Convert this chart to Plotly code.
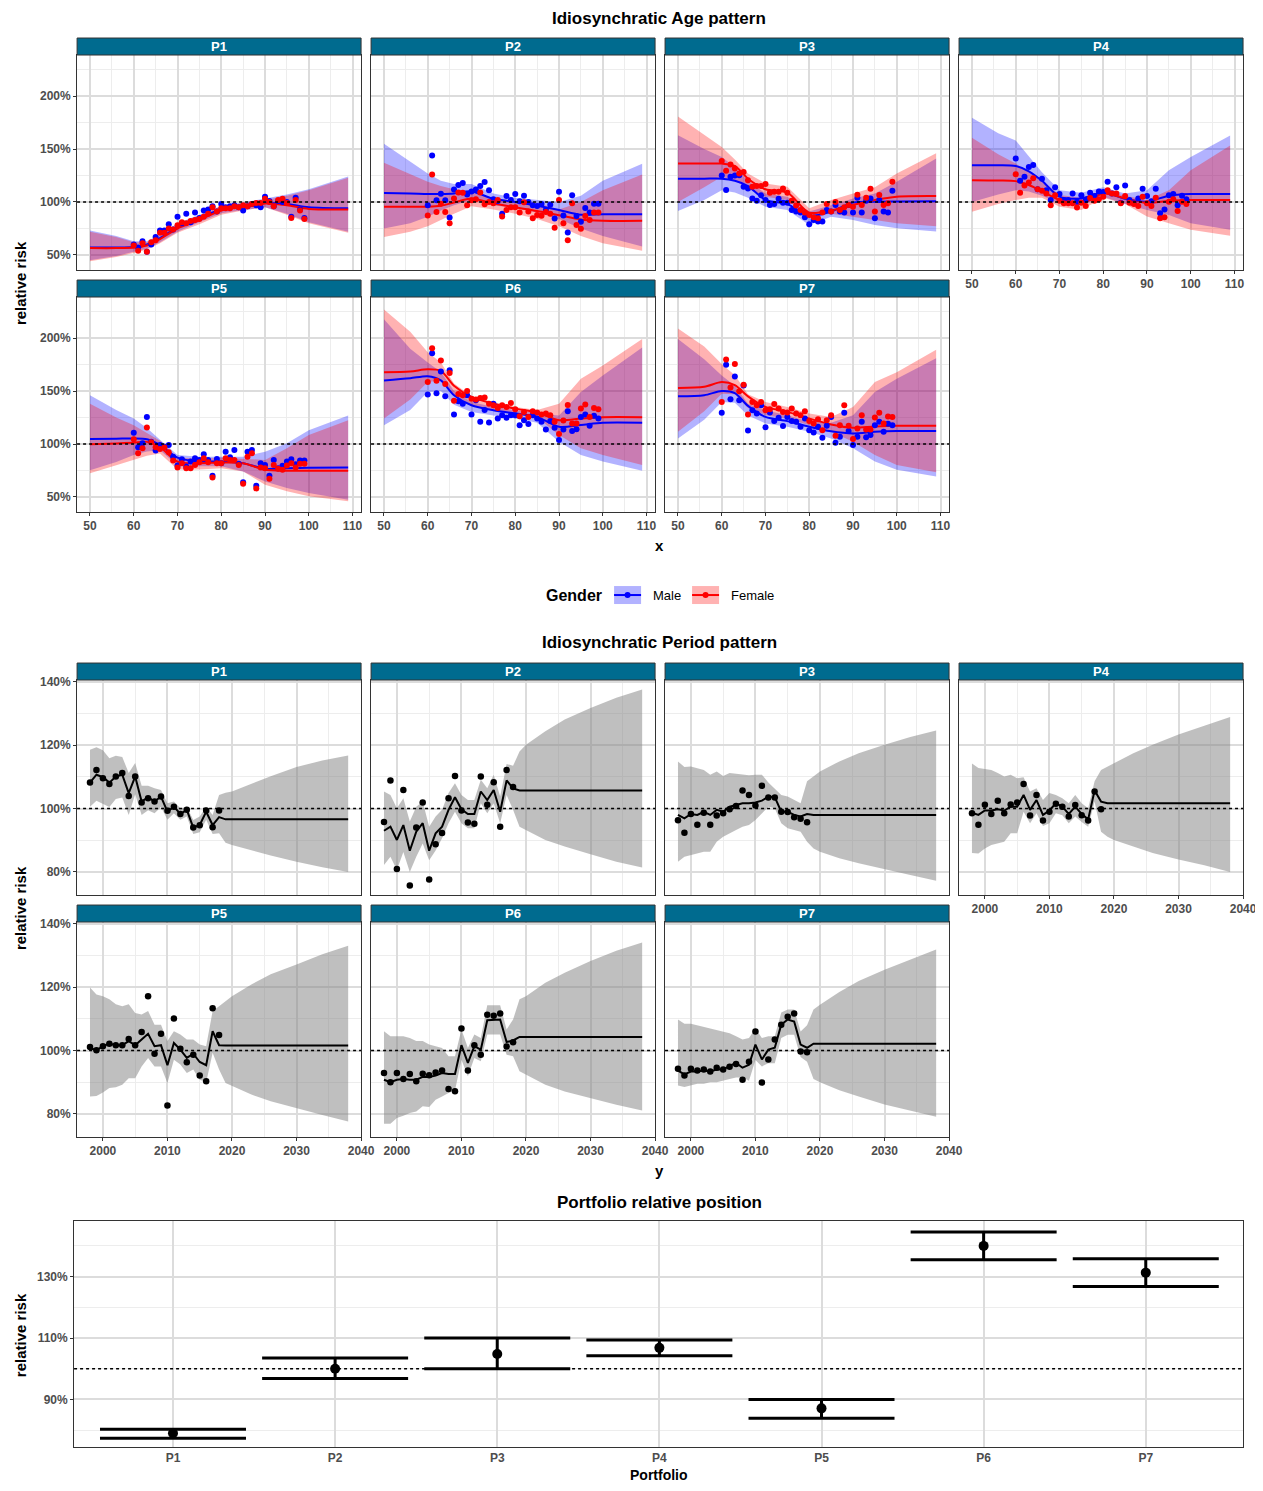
import plotly.graph_objects as go

# page placement: html body keeps its default 8px margin; the photographed page
# comes out slightly compressed horizontally, so positions are corrected for that
OFF = 8
SX = 0.989
W, H = 1269, 1475

# ---------------- data ----------------
ports = ["P1", "P2", "P3", "P4", "P5", "P6", "P7"]
ages = list(range(60, 100))
age_knots = [50, 56, 60, 63, 66, 70, 75, 80, 85, 90, 95, 100, 109]
years = list(range(1998, 2019))
line_years = list(range(1998, 2020)) + [2038]
band_years = list(range(1998, 2021)) + [2023, 2026, 2030, 2034, 2038]

# observed relative risk by age (%), ages 60..99
male_points = {
    "P1": [60, 57, 63, 53, 60, 67, 73, 73, 79, 74, 86, 80, 89, 81, 90, 85, 92, 93, 96, 91,
           98, 95, 96, 97, 95, 92, 96, 98, 97, 95, 105, 101, 96, 101, 100, 100, 86, 104, 93, 85],
    "P2": [97, 144, 101.6, 107.8, 101.6, 85.3, 111.9, 116, 118, 107, 110, 111.9, 115, 118.8, 111, 102.5, 101, 89, 105.6, 101.9,
           107.5, 100.6, 106, 100, 96.9, 96.3, 98, 92.5, 97.5, 84.4, 109.7, 87.2, 71.3, 106.3, 86.9, 81.3, 94.4, 90, 98.4, 98.4],
    "P3": [125, 111.3, 123.8, 125, 125.3, 114.4, 112.8, 103.4, 101.3, 106.3, 101.9, 97.2, 98, 103.1, 99.4, 99.4, 92.5, 91, 90, 85.6,
           79, 83, 81.6, 81.6, 92.5, 91, 97.2, 91, 90, 97.2, 90, 104, 90, 101.3, 103.4, 84.7, 101.9, 91, 90, 110.6],
    "P4": [141, 120, 123.8, 133, 135, 112, 122, 111, 102, 114, 107.5, 102, 102, 108, 100.3, 106.3, 102, 108.8, 105.6, 110,
           109.4, 119, 108, 114, 99.4, 115.6, 102, 98.8, 103.4, 112.5, 105.6, 100.6, 112.5, 89.4, 93, 106.3, 107.5, 96.9, 106, 102.5],
    "P5": [110.6, 96.9, 100.6, 125.6, 102.2, 93.8, 99, 97.5, 99, 88, 79.7, 85.6, 78.8, 83.4, 86.6, 85, 90.3, 85, 70, 85.9,
           81.9, 92.8, 87.5, 94.4, 81.3, 64, 92.8, 94.4, 60.6, 81.9, 80.3, 70, 85, 77.2, 79.4, 83.4, 85.6, 81, 84.4, 84.4],
    "P6": [146.6, 185.6, 147.8, 168.4, 145, 169.7, 127.8, 140.3, 138, 145.9, 127.8, 141.3, 121, 132.2, 120.3, 138, 124, 127.2, 124.7, 127.2,
           127.2, 117.8, 122.5, 118.8, 127.2, 124, 121, 113.8, 121.6, 115.3, 103.8, 113.8, 130.9, 112.2, 114, 125.6, 127.8, 117.2, 126.6, 124],
    "P7": [129.4, 174.7, 142.2, 163.8, 141.3, 155.3, 112.8, 131.9, 128.8, 136.6, 115.9, 129.7, 121.6, 124.7, 116.9, 125.6, 121.6, 121, 116.3, 124,
           113, 110.9, 116.3, 105.9, 117.2, 125.6, 101.3, 106.9, 129.4, 112.2, 99, 106.9, 121, 106.3, 108.4, 117.8, 121, 111.6, 119, 117.8],
}
female_points = {
    "P1": [59, 54, 61, 53, 62, 64, 71, 71, 75, 74, 78, 81, 80, 82, 83, 84, 86, 89, 95, 91,
           94, 94, 94, 96, 95, 97, 96, 98, 99, 99, 103, 100, 96, 102, 103, 99, 85, 102, 92, 84],
    "P2": [87.2, 126, 90.6, 98.4, 90.6, 80, 103.4, 109, 108.8, 97, 101.6, 102.5, 109, 97.8, 100, 98.8, 101.9, 86.3, 92.5, 95,
           95, 90, 99.7, 91, 84.7, 87.8, 87, 90.6, 88.8, 75.6, 101.9, 80, 64, 98.8, 78.4, 74.7, 86.9, 83, 90, 90],
    "P3": [138.8, 129.4, 135.3, 131.6, 126.9, 128.4, 120.6, 114.4, 115, 115, 116.9, 108.8, 109.7, 109.7, 112.8, 108.8, 101.3, 96.6, 92.5, 90,
           87.8, 85.6, 84.7, 90, 98, 91, 100, 92.5, 95, 97.2, 95.6, 106.9, 97.2, 104, 112.5, 91, 106.6, 97.2, 98.8, 119],
    "P4": [126.3, 108.8, 115.6, 118.4, 122.5, 112, 110.6, 108, 96.9, 106.3, 101.3, 98.8, 98.8, 98.8, 94.7, 99.4, 96.3, 103.8, 101.3, 102.5,
           105, 111, 108, 108, 98.8, 105.6, 99.4, 98, 96.3, 105, 98.8, 96.3, 104, 84.7, 85.6, 100.3, 102.5, 91.6, 100.3, 98],
    "P5": [104.4, 91.3, 95.9, 115.6, 101.6, 96.9, 95.3, 96.6, 92.2, 84.4, 77.8, 81.9, 77.2, 77.2, 80.3, 82.8, 86.6, 82.8, 68.4, 81.9,
           81.9, 86.6, 85, 85, 80.3, 62.5, 88, 91.3, 58.1, 77.8, 77.2, 67.2, 80.3, 76.6, 75.6, 79.7, 81.9, 77.8, 81.3, 81.3],
    "P6": [158.4, 190.3, 159.7, 178.8, 156.6, 166.9, 140.9, 147.2, 146, 150, 142.8, 142, 143.4, 144, 138, 136.6, 134, 136.6, 135, 138.8,
           132.8, 126.3, 130.3, 125.6, 130.9, 129.7, 127.8, 128.8, 127.2, 121, 109.4, 122.2, 136.9, 119.4, 119.4, 133.4, 137.2, 125.6, 134, 132.8],
    "P7": [139.7, 179.7, 153.4, 175.6, 149.7, 155.9, 127.8, 139.7, 136.6, 139.7, 131.9, 132.8, 137.8, 133.4, 130.3, 129.7, 133.4, 128.8, 127.2, 130.9,
           121.6, 119.4, 123.4, 113, 122.5, 127.2, 107.8, 117.8, 136.6, 117.2, 104.7, 114.7, 127.2, 113.8, 113.8, 125, 129.4, 119.4, 125.9, 125.6],
}

# fitted age curves (%), at age_knots
male_fit = {
    "P1": [57, 57, 57.5, 60, 66, 76, 85, 93, 96, 99, 98, 95, 94],
    "P2": [108.4, 108, 107.5, 107.5, 108, 110, 103, 100, 96.5, 92.5, 88, 88.4, 88.4],
    "P3": [122, 122, 122, 120, 115, 102, 98, 87, 91, 99.4, 100.3, 100.5, 100.6],
    "P4": [134.7, 134.7, 134, 129, 120, 105, 103.4, 109, 103, 100.3, 106, 107.5, 107.5],
    "P5": [104.7, 105, 105.3, 104.5, 99, 87.2, 83.4, 83.5, 81.9, 76.6, 77.2, 77.5, 77.8],
    "P6": [160, 162, 164, 160, 146, 136.6, 131.9, 128.8, 125.6, 116.3, 118, 120, 120],
    "P7": [145, 146, 150, 148, 136, 125.6, 121.6, 116.3, 112, 110, 111.5, 112.2, 112.2],
}
female_fit = {
    "P1": [56.5, 56.5, 57, 59, 65, 75, 83, 92, 95.5, 98.5, 97, 93.5, 93],
    "P2": [95.6, 95.6, 95.6, 96.5, 99.5, 103.4, 98.5, 95, 91.5, 87.5, 83.5, 82.3, 82.2],
    "P3": [136.3, 136.3, 136.3, 134, 122, 112, 108.8, 90, 92, 97.2, 101.9, 105, 105.6],
    "P4": [120.6, 120.3, 119.7, 116, 110, 101.9, 98.5, 108, 103.4, 99, 101.3, 101.9, 101.9],
    "P5": [99.7, 100.5, 101.3, 102, 97, 83.4, 81.9, 82.5, 81.9, 75.6, 74.7, 74.7, 74.7],
    "P6": [167.8, 168.5, 170.5, 169, 155, 144.4, 138, 133.4, 129.7, 122.5, 124, 125.3, 125.3],
    "P7": [152.8, 154, 158.5, 155.5, 145, 135, 130.3, 124, 118.5, 115.3, 116.5, 117.2, 117.2],
}
male_upper = {
    "P1": [73, 68, 63, 63, 69, 80, 88, 96.5, 99.5, 103, 107, 112, 124],
    "P2": [155, 138, 127, 120, 117, 117, 108, 104, 102, 100, 106, 120, 136],
    "P3": [163, 150, 142.5, 133, 120, 108, 105, 91, 97, 103.4, 108, 119, 141],
    "P4": [179.4, 165, 158, 143, 128, 111, 108.8, 114, 108, 111, 130, 142.5, 162.8],
    "P5": [146, 132, 124, 115, 104, 89.7, 88, 88, 88, 92.8, 100.6, 113, 127],
    "P6": [217.8, 190, 177, 168, 150, 139.7, 135, 132, 129, 127, 149, 164.7, 191],
    "P7": [199, 180, 164.7, 155, 138, 131.9, 127.2, 121, 120, 127.2, 149, 161.6, 181],
}
male_lower = {
    "P1": [45, 49, 53, 56, 62, 72, 81, 89.5, 92.5, 95, 89, 81, 72],
    "P2": [75, 80, 86, 92, 97, 102, 97, 94, 90, 84, 75, 68, 58],
    "P3": [91.6, 102, 111, 109, 104, 95.6, 92.5, 78.4, 86, 83, 78.4, 75.3, 72.2],
    "P4": [100, 107, 111, 110, 106, 98.8, 97, 105, 98, 92.5, 87.8, 80, 73.8],
    "P5": [75.3, 83, 89.7, 93, 94, 80, 79, 79, 74, 64.7, 58.4, 53.8, 47.5],
    "P6": [117.8, 132, 149, 150, 137, 130.3, 127, 124, 120, 102.2, 89.7, 83.4, 74.7],
    "P7": [105.3, 123, 139.7, 139, 127, 119.4, 116.3, 111.6, 105.3, 96, 83.4, 75.6, 69.4],
}
female_upper = {
    "P1": [72, 67, 62, 62, 68, 79, 87, 96, 99, 102, 106, 111, 123],
    "P2": [137, 126, 119, 115, 112, 109, 104, 101, 99, 93, 100, 111, 126],
    "P3": [180.6, 163, 152, 140, 127, 117.5, 114.4, 94, 102, 108, 114, 127, 146],
    "P4": [160.6, 145, 136.3, 128, 120, 106.6, 104, 111, 106, 101.9, 111, 130, 153.4],
    "P5": [138, 125, 117.8, 110, 103, 87, 86, 87, 86, 85, 96, 108.4, 122.5],
    "P6": [227, 206, 186.6, 177, 157, 145.3, 139.7, 135, 132, 138, 161.6, 174, 199],
    "P7": [209, 192, 175.6, 165, 147, 139.7, 135, 128.8, 125.6, 135, 158.4, 167.8, 189],
}
female_lower = {
    "P1": [44, 48, 52, 55, 61, 71, 79, 88, 92, 95, 88, 80, 71],
    "P2": [67, 72, 77, 83, 89, 96, 93, 89, 84, 77, 68, 61, 54],
    "P3": [100, 114, 123.8, 120, 113, 105, 102, 86.3, 89, 86, 83, 80, 77],
    "P4": [90.9, 98, 101.9, 104, 104, 95.6, 92.5, 104, 98, 86.3, 80, 73.8, 68.1],
    "P5": [72.5, 80, 85, 89, 91, 76, 76, 77, 74, 61.6, 55.3, 50.6, 46],
    "P6": [124, 142, 158.4, 160, 146, 136.6, 131.9, 127.8, 125, 108.4, 96, 89.7, 80.3],
    "P7": [111.6, 131, 147.5, 147, 134, 127.2, 124, 117.8, 111.6, 102.2, 89.7, 80.3, 73.4],
}

# period effect (%): observed 1998..2018, fitted on line_years, band on band_years
period_points = {
    "P1": [108.2, 112.2, 109.6, 107.8, 110.1, 111.2, 104.0, 110.1, 101.9, 103.3, 102.2, 103.8, 99.3, 100.6, 98.3, 99.6, 94.0, 94.7, 99.4, 94.1, 99.4],
    "P2": [95.8, 108.9, 80.9, 105.9, 75.7, 94.0, 101.9, 77.6, 88.7, 92.3, 103.3, 110.3, 99.4, 95.6, 95.2, 110.1, 101.2, 108.3, 94.3, 112.2, 106.8],
    "P3": [96.3, 92.4, 98.3, 94.9, 98.7, 94.9, 97.8, 98.5, 99.8, 100.8, 105.7, 104.3, 101.0, 107.2, 103.5, 103.5, 99.0, 98.9, 97.3, 96.8, 95.7],
    "P4": [98.5, 94.9, 101.2, 98.3, 102.5, 98.5, 101.3, 101.9, 107.8, 97.8, 104.3, 96.2, 99.0, 101.5, 100.6, 97.5, 101.1, 97.9, 96.2, 105.4, 99.8],
    "P5": [101.1, 100.1, 101.4, 102.2, 101.7, 101.7, 103.7, 101.7, 105.9, 117.2, 99.0, 105.3, 82.7, 110.1, 100.6, 96.3, 98.7, 92.1, 90.3, 113.4, 104.9],
    "P6": [92.9, 90.0, 92.9, 91.0, 92.6, 90.3, 92.7, 92.2, 93.1, 93.7, 87.9, 87.2, 107.0, 93.7, 101.7, 98.7, 111.3, 111.0, 111.7, 101.3, 102.6],
    "P7": [94.3, 92.1, 94.3, 93.7, 94.0, 93.4, 94.6, 94.0, 94.9, 95.8, 90.8, 96.5, 106.0, 89.9, 97.2, 103.5, 108.2, 110.7, 111.7, 99.7, 99.5],
}
period_fit = {
    "P1": [108.2, 110.7, 109.9, 108.2, 110.1, 110.7, 104.9, 110.1, 102.2, 103.6, 102.2, 103.8, 99.0, 100.6, 98.3, 99.6, 94.0, 94.8, 99.0, 94.8, 97.3, 96.6, 96.6],
    "P2": [93.0, 94.3, 90.1, 94.8, 86.7, 92.7, 95.4, 86.7, 92.2, 94.3, 99.6, 103.6, 99.8, 98.3, 98.3, 105.4, 102.7, 105.9, 99.0, 108.9, 106.4, 105.7, 105.7],
    "P3": [98.0, 96.9, 98.3, 98.0, 99.0, 98.0, 99.6, 99.0, 100.6, 101.2, 101.7, 101.7, 101.9, 102.5, 103.8, 103.6, 99.0, 99.0, 98.0, 97.5, 98.3, 98.0, 98.0],
    "P4": [98.7, 98.0, 99.4, 99.4, 99.8, 99.4, 100.6, 100.6, 104.3, 99.6, 102.7, 98.0, 99.4, 101.7, 100.6, 98.3, 100.6, 98.3, 96.6, 105.7, 102.2, 101.7, 101.7],
    "P5": [100.8, 100.1, 101.4, 102.2, 101.7, 101.7, 103.0, 101.7, 103.5, 105.3, 101.4, 101.7, 95.4, 102.4, 100.3, 97.7, 99.0, 96.4, 95.4, 106.1, 101.7, 101.6, 101.6],
    "P6": [90.8, 90.0, 90.8, 91.0, 90.8, 90.8, 91.7, 91.7, 92.1, 92.9, 92.6, 92.6, 101.7, 96.1, 101.4, 100.3, 109.6, 109.8, 109.8, 102.7, 103.2, 104.3, 104.3],
    "P7": [93.7, 92.5, 93.4, 93.4, 93.7, 93.4, 94.0, 94.0, 95.2, 96.1, 94.6, 95.5, 101.9, 97.2, 100.3, 100.9, 108.2, 109.8, 109.2, 101.9, 100.9, 102.2, 102.2],
}
period_upper = {
    "P1": [118.6, 119.4, 118.4, 115.9, 116.7, 116.3, 111.2, 114.4, 107.2, 107.2, 106.4, 105.9, 101.7, 102.2, 100.1, 100.6, 96.4, 97.5, 100.6, 98.0, 104.3, 105.0, 105.4, 107.8, 110.2, 113.1, 115.2, 116.8],
    "P2": [105.4, 104.3, 100.1, 103.3, 95.9, 100.6, 102.2, 94.3, 97.5, 99.6, 104.9, 108.0, 104.3, 102.7, 102.7, 109.1, 106.4, 110.7, 103.8, 114.1, 113.5, 118.0, 120.2, 124.4, 128.1, 131.8, 135.0, 137.6],
    "P3": [114.9, 113.1, 113.3, 112.8, 112.2, 110.7, 111.7, 110.3, 111.2, 111.0, 110.7, 110.5, 110.7, 110.7, 108.2, 106.4, 104.3, 103.8, 102.7, 101.7, 108.6, 110.1, 111.7, 114.9, 117.5, 120.2, 122.6, 124.7],
    "P4": [114.2, 112.8, 112.5, 112.2, 111.2, 110.1, 110.7, 109.6, 109.9, 105.4, 106.4, 102.7, 104.9, 104.3, 103.3, 101.7, 104.3, 101.7, 100.1, 108.6, 112.2, 113.3, 114.4, 117.5, 120.2, 123.4, 126.2, 128.9],
    "P5": [119.9, 117.7, 117.2, 116.2, 114.6, 114.0, 114.6, 111.9, 111.4, 112.5, 108.2, 108.2, 103.0, 106.1, 105.1, 103.5, 103.5, 101.9, 101.4, 112.5, 114.0, 115.6, 117.2, 120.9, 124.1, 127.2, 130.4, 133.1],
    "P6": [106.1, 104.5, 104.5, 104.5, 104.0, 103.0, 103.0, 101.9, 101.4, 100.8, 98.2, 98.2, 106.7, 100.8, 105.1, 104.0, 114.3, 114.3, 114.3, 106.7, 109.8, 116.2, 117.2, 121.4, 124.6, 128.3, 131.5, 134.1],
    "P7": [109.8, 108.5, 108.5, 108.0, 107.5, 107.0, 106.5, 106.0, 105.5, 104.5, 103.5, 104.0, 107.0, 104.0, 104.5, 104.5, 112.0, 113.0, 113.0, 106.0, 108.0, 113.0, 114.5, 118.5, 122.0, 125.5, 128.8, 131.9],
}
period_lower = {
    "P1": [100.6, 102.5, 101.5, 100.5, 103.0, 103.5, 98.0, 104.5, 98.0, 99.5, 98.5, 100.5, 96.5, 98.5, 96.5, 97.5, 92.0, 92.5, 96.5, 92.0, 92.2, 89.2, 88.5, 86.8, 85.2, 83.2, 81.5, 80.0],
    "P2": [82.2, 84.8, 80.6, 86.3, 80.0, 84.8, 89.0, 83.7, 86.8, 90.6, 95.4, 99.0, 95.4, 93.8, 93.8, 101.7, 98.5, 101.7, 95.4, 104.3, 99.6, 94.3, 93.2, 90.1, 88.0, 85.6, 83.2, 81.4],
    "P3": [83.2, 84.8, 85.3, 85.8, 86.4, 86.4, 89.5, 91.1, 92.2, 93.2, 94.3, 94.8, 96.4, 98.5, 100.6, 100.1, 95.4, 93.8, 93.2, 92.7, 89.5, 87.4, 86.4, 84.3, 82.7, 80.8, 79.0, 77.2],
    "P4": [86.0, 85.8, 87.4, 88.5, 89.0, 89.5, 92.2, 92.2, 99.0, 95.4, 98.5, 94.5, 95.4, 98.5, 97.9, 95.4, 97.5, 95.8, 94.3, 102.2, 92.7, 91.1, 90.1, 88.0, 86.0, 83.9, 82.1, 80.0],
    "P5": [85.5, 85.7, 86.8, 88.2, 88.4, 89.2, 91.3, 91.3, 95.0, 97.7, 95.0, 95.0, 89.8, 97.1, 95.6, 92.9, 94.0, 90.8, 90.0, 99.3, 94.0, 89.8, 88.7, 86.1, 84.0, 81.8, 79.7, 77.6],
    "P6": [76.9, 76.9, 78.7, 79.4, 80.3, 80.8, 82.4, 82.2, 84.5, 85.5, 86.6, 87.4, 97.1, 91.9, 97.7, 96.6, 105.1, 105.1, 105.1, 98.7, 98.2, 93.5, 92.4, 89.2, 87.1, 85.0, 82.9, 81.1],
    "P7": [89.0, 88.5, 89.0, 89.5, 89.5, 90.0, 90.0, 90.5, 91.0, 91.5, 91.5, 90.5, 97.0, 95.0, 96.0, 96.0, 104.0, 105.0, 105.0, 98.0, 96.5, 91.0, 90.0, 87.5, 85.5, 83.0, 81.0, 79.1],
}

# portfolio relative position (%)
port_est = [79.0, 100.0, 104.8, 106.8, 87.1, 140.0, 131.3]
port_low = [77.4, 96.8, 100.0, 104.2, 83.9, 135.5, 126.8]
port_high = [80.3, 103.5, 110.0, 109.4, 90.0, 144.5, 135.8]

# ---------------- layout helpers ----------------
FONT = "Liberation Sans, Arial, sans-serif"
STRIP = "#006B8F"
BORDER = "#333333"
GRID = "#dcdcdc"
MINOR = "#ededed"

cols = [(77, 361), (371, 655), (665, 949), (959, 1243)]
age_rows = [(55, 270), (297, 512)]
per_rows = [(680, 895), (922, 1137)]
STRIP_H = 17


def px(x):
    return (x / SX - OFF) / W


def py(y):
    return 1 - ((y - 5) / 0.9966 - OFF) / H


def xd(a, b):
    return [px(a), px(b)]


def yd(top, bottom):
    return [py(bottom), py(top)]


def ref(n):
    return ("x", "y") if n == 1 else (f"x{n}", f"y{n}")


fig = go.Figure()
shapes = []
annotations = []
layout = {}


def add_axes(n, xdom, ydom, xr, yr, xt0, xdt, xmin, yt0, ydt, ymin, showx, showy, cat=False):
    tickfont = dict(family=FONT, size=12, color="#4d4d4d", weight="bold")
    xa = dict(domain=xdom, anchor=ref(n)[1], showline=True, mirror=True, linecolor=BORDER,
              linewidth=1, gridcolor=GRID, gridwidth=1.5, zeroline=False, range=xr,
              showticklabels=showx, ticks="outside" if showx else "", ticklen=3,
              tickcolor=BORDER, tickfont=tickfont)
    if not cat:
        xa.update(tick0=xt0, dtick=xdt,
                  minor=dict(dtick=xmin, showgrid=True, gridcolor=MINOR, gridwidth=1, ticks=""))
    else:
        xa.update(ticks="", ticklen=0)
    ya = dict(domain=ydom, anchor=ref(n)[0], showline=True, mirror=True, linecolor=BORDER,
              linewidth=1, gridcolor=GRID, gridwidth=1.5, zeroline=False, range=yr,
              tick0=yt0, dtick=ydt, ticksuffix="%",
              minor=dict(dtick=ymin, showgrid=True, gridcolor=MINOR, gridwidth=1, ticks=""),
              showticklabels=showy, ticks="outside" if showy else "", ticklen=3,
              tickcolor=BORDER, tickfont=tickfont)
    layout["xaxis" if n == 1 else f"xaxis{n}"] = xa
    layout["yaxis" if n == 1 else f"yaxis{n}"] = ya
    xr_, yr_ = ref(n)
    shapes.append(dict(type="line", xref=f"{xr_} domain", yref=yr_, x0=0, x1=1, y0=100, y1=100,
                       line=dict(color="black", width=1.5, dash="dot"), layer="above"))


def add_strip(col, top, label):
    a, b = cols[col]
    shapes.append(dict(type="rect", xref="paper", yref="paper", x0=px(a), x1=px(b),
                       y0=py(top), y1=py(top - STRIP_H),
                       fillcolor=STRIP, line=dict(color=BORDER, width=1)))
    annotations.append(dict(xref="paper", yref="paper", x=px((a + b) / 2),
                            y=py(top - STRIP_H / 2), text=label, showarrow=False,
                            xanchor="center", yanchor="middle",
                            font=dict(family=FONT, size=13, color="white", weight="bold")))


def text(x, y, s, size, angle=0, xanchor="center", weight="bold"):
    annotations.append(dict(xref="paper", yref="paper", x=px(x), y=py(y), text=s,
                            showarrow=False, textangle=angle, xanchor=xanchor, yanchor="middle",
                            font=dict(family=FONT, size=size, color="black", weight=weight)))


def band(n, xs, up, lo, color):
    xr_, yr_ = ref(n)
    fig.add_trace(go.Scatter(x=list(xs) + list(xs)[::-1], y=list(up) + list(lo)[::-1],
                             fill="toself", fillcolor=color, line=dict(width=0),
                             mode="lines", hoverinfo="skip", xaxis=xr_, yaxis=yr_))


# ---------------- age panels ----------------
for i, p in enumerate(ports):
    n = i + 1
    c, r = i % 4, i // 4
    top, bot = age_rows[r]
    showx = r == 1 or c == 3
    add_axes(n, xd(*cols[c]), yd(top, bot), [47.05, 111.95], [35.8, 238.7],
             50, 10, 5, 50, 50, 25, showx, c == 0)
    add_strip(c, top, p)
    xr_, yr_ = ref(n)
    band(n, age_knots, male_upper[p], male_lower[p], "rgba(0,0,255,0.3)")
    band(n, age_knots, female_upper[p], female_lower[p], "rgba(255,0,0,0.3)")
    for fit, colr in ((male_fit, "#0000FF"), (female_fit, "#FF0000")):
        fig.add_trace(go.Scatter(x=age_knots, y=fit[p], mode="lines",
                                 line=dict(color=colr, width=2, shape="spline", smoothing=0.8),
                                 xaxis=xr_, yaxis=yr_))
    for pts, colr in ((male_points, "#0000FF"), (female_points, "#FF0000")):
        fig.add_trace(go.Scatter(x=ages, y=pts[p], mode="markers",
                                 marker=dict(color=colr, size=6), xaxis=xr_, yaxis=yr_))

# ---------------- period panels ----------------
for i, p in enumerate(ports):
    n = i + 8
    c, r = i % 4, i // 4
    top, bot = per_rows[r]
    showx = r == 1 or c == 3
    add_axes(n, xd(*cols[c]), yd(top, bot), [1996, 2040], [72.7, 140.6],
             2000, 10, 5, 80, 20, 10, showx, c == 0)
    add_strip(c, top, p)
    xr_, yr_ = ref(n)
    band(n, band_years, period_upper[p], period_lower[p], "rgba(128,128,128,0.5)")
    fig.add_trace(go.Scatter(x=line_years, y=period_fit[p], mode="lines",
                             line=dict(color="black", width=2), xaxis=xr_, yaxis=yr_))
    fig.add_trace(go.Scatter(x=years, y=period_points[p], mode="markers",
                             marker=dict(color="black", size=6.5), xaxis=xr_, yaxis=yr_))

# ---------------- portfolio panel ----------------
n = 15
add_axes(n, xd(74, 1243), yd(1221, 1447), [-0.61, 6.6], [74.5, 148.1],
         None, None, None, 90, 20, 10, True, True, cat=True)
fig.add_trace(go.Scatter(
    x=ports, y=port_est, mode="markers", marker=dict(color="black", size=10),
    error_y=dict(type="data", symmetric=False,
                 array=[h - e for h, e in zip(port_high, port_est)],
                 arrayminus=[e - l for e, l in zip(port_est, port_low)],
                 width=73, thickness=3, color="black"),
    xaxis="x15", yaxis="y15"))

# ---------------- titles ----------------
text(659, 18, "Idiosynchratic Age pattern", 17)
text(659, 642, "Idiosynchratic Period pattern", 17)
text(659, 1202, "Portfolio relative position", 17)
text(659, 545, "x", 15)
text(659, 1170, "y", 15)
text(659, 1475, "Portfolio", 14)
text(20, 283, "relative risk", 15, angle=-90)
text(20, 908, "relative risk", 15, angle=-90)
text(20, 1335, "relative risk", 15, angle=-90)

# ---------------- legend (drawn) ----------------
text(544, 595, "Gender", 16, xanchor="left")
for x0, fill, colr, label in ((614, "rgba(0,0,255,0.3)", "#0000FF", "Male"),
                              (692, "rgba(255,0,0,0.3)", "#FF0000", "Female")):
    shapes.append(dict(type="rect", xref="paper", yref="paper", x0=px(x0), x1=px(x0 + 27),
                       y0=py(604), y1=py(586), fillcolor=fill, line=dict(width=0)))
    shapes.append(dict(type="line", xref="paper", yref="paper", x0=px(x0), x1=px(x0 + 27),
                       y0=py(595), y1=py(595), line=dict(color=colr, width=2)))
    shapes.append(dict(type="circle", xref="paper", yref="paper", x0=px(x0 + 10.5),
                       x1=px(x0 + 16.5), y0=py(598), y1=py(592),
                       fillcolor=colr, line=dict(width=0)))
    text(x0 + 37, 595, label, 13, xanchor="left", weight="normal")

fig.update_layout(**layout)
fig.update_layout(width=W, height=H, margin=dict(l=0, r=0, t=0, b=0),
                  plot_bgcolor="white", paper_bgcolor="white", showlegend=False,
                  shapes=shapes, annotations=annotations,
                  font=dict(family=FONT))

fig.write_html("out.html")
